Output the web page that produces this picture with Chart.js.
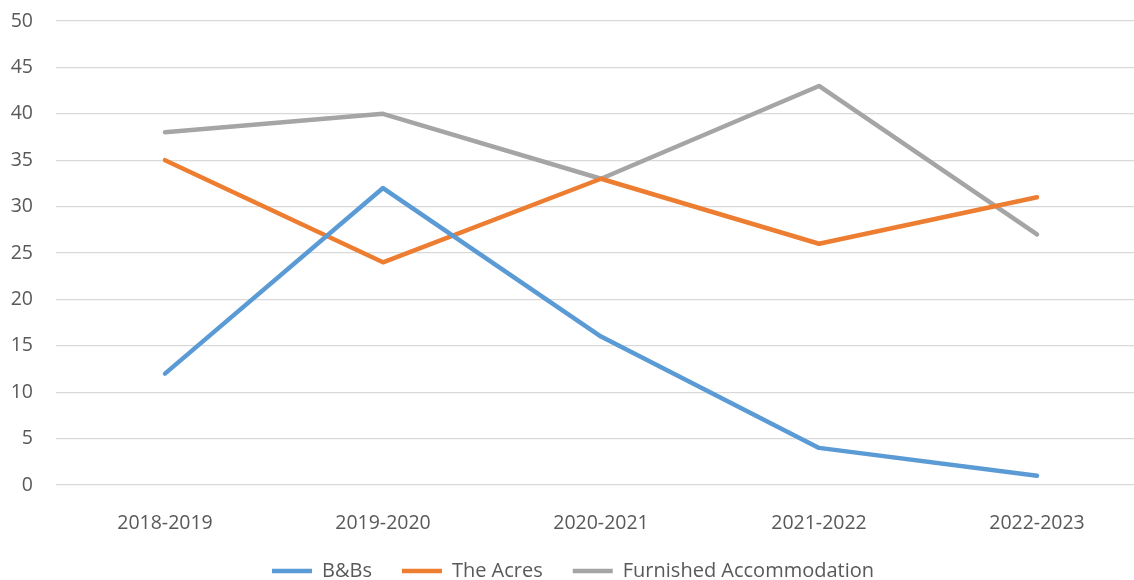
<!doctype html>
<html>
  <head>
    <title>Accommodation</title>
    <script src="https://cdn.jsdelivr.net/npm/chart.js@4"></script>
    <style>
      html, body { margin: 0; padding: 0; overflow: hidden; background: #fff; }
    </style>
  </head>
  <body>
    <div style="width: 1146px; height: 591px;">
      <canvas id="chart"></canvas>
    </div>
  </body>
  <script>
    const years = ['2018-2019', '2019-2020', '2020-2021', '2021-2022', '2022-2023'];
    const bnbs = [12, 32, 16, 4, 1];
    const acres = [35, 24, 33, 26, 31];
    const furnished = [38, 40, 33, 43, 27];

    const makeSet = (label, color, data) => ({
      label: label,
      data: data,
      borderColor: color,
      backgroundColor: color,
      borderWidth: 4.5,
      borderCapStyle: 'round',
      borderJoinStyle: 'round',
      pointRadius: 0,
      pointHoverRadius: 0,
      pointStyle: 'line',
      tension: 0,
    });

    Chart.defaults.font.family = "'Open Sans', 'Noto Sans', sans-serif";
    Chart.defaults.color = '#595959';

    new Chart(document.getElementById('chart').getContext('2d'), {
      type: 'line',
      data: {
        labels: years,
        datasets: [
          makeSet('B&Bs', '#5B9BD5', bnbs),
          makeSet('The Acres', '#ED7D31', acres),
          makeSet('Furnished Accommodation', '#A5A5A5', furnished),
        ]
      },
      options: {
        responsive: true,
        maintainAspectRatio: false,
        animation: false,
        layout: { padding: { top: 21, bottom: 0, left: 0, right: 0 } },
        plugins: {
          tooltip: { enabled: false },
          legend: {
            position: 'bottom',
            labels: {
              usePointStyle: true,
              pointStyleWidth: 40,
              padding: 30,
              font: { size: 20 },
              color: '#595959',
            }
          }
        },
        scales: {
          x: {
            offset: true,
            grid: { display: false },
            border: { display: false },
            ticks: { font: { size: 19.5 }, padding: 19, maxRotation: 0 },
            afterFit: (axis) => { axis.height = 46; },
          },
          y: {
            min: 0,
            max: 50,
            grid: { color: '#d9d9d9', lineWidth: 1.3, drawTicks: false },
            border: { display: false },
            ticks: { stepSize: 5, font: { size: 19.5 }, padding: 23 },
            afterFit: (axis) => {
              axis.width = 56;
              axis.paddingTop = 0;
              axis.paddingBottom = 0;
            },
          }
        }
      }
    });
  </script>
</html>
